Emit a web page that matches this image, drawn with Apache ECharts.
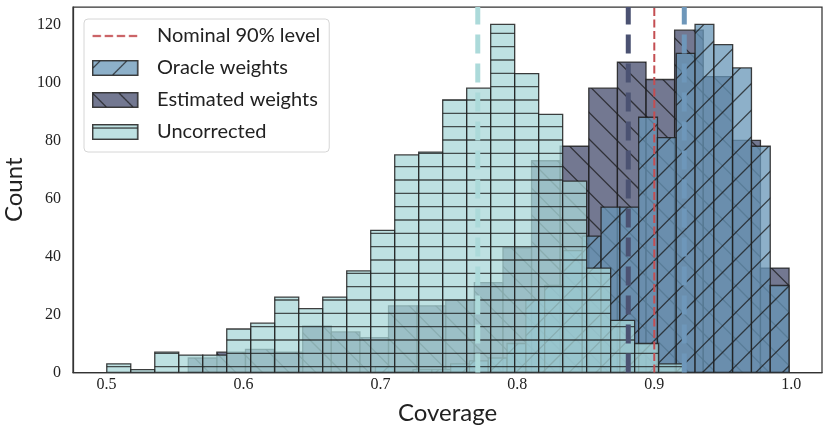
<!DOCTYPE html>
<html><head><meta charset="utf-8">
<script src="https://cdn.jsdelivr.net/npm/echarts@6/dist/echarts.min.js"></script>
<style>html,body{margin:0;padding:0;background:#fff}#chart{width:831px;height:436px}</style>
</head><body><div id="chart"></div>
<script>
// ---- data ----
const uncorrectedRange = [0.5002, 0.9207];
const uncorrectedCounts = [3, 1, 7, 6, 6, 15, 17, 26, 22, 26, 35, 49, 75, 76, 94, 98, 120, 103, 89, 66, 36, 18, 10, 3];
const estimatedRange = [0.5597, 0.9984];
const estimatedCounts = [5, 7, 8, 7, 16, 14, 12, 23, 23, 25, 31, 43, 73, 78, 98, 107, 101, 118, 102, 80, 36];
const oracleRange = [0.6964, 0.9984];
const oracleCounts = [2, 0, 1, 1, 3, 4, 5, 10, 25, 30, 42, 47, 57, 57, 88, 81, 110, 120, 113, 105, 78, 30];
const meanUncorrected = 0.7711;
const meanEstimated = 0.881;
const meanOracle = 0.9219;
const nominalLevel = 0.9;
const xTicks = [0.5, 0.6, 0.7, 0.8, 0.9, 1.0];
const yTicks = [0, 20, 40, 60, 80, 100, 120];
const legendNames = ['Nominal 90% level', 'Oracle weights', 'Estimated weights', 'Uncorrected'];

// ---- styles ----
const X_MIN = 0.47554, X_MAX = 1.02246, Y_MAX = 126;
const COL = {
  oracle: 'rgba(103,150,183,0.75)',
  est: 'rgba(68,75,108,0.75)',
  unc: 'rgba(168,215,216,0.75)',
  edge: 'rgba(30,30,30,0.85)',
  hatch: 'rgba(25,25,25,0.75)',
  red: '#c44e52'
};
const SP_H = 13.333, SP_D = 26.667;

function binsFrom(range, counts) {
  const w = (range[1] - range[0]) / counts.length;
  return counts.map((c, i) => [range[0] + i * w, range[0] + (i + 1) * w, c]);
}

function drawHatch(ctx, kind, w, h, phase) {
  ctx.beginPath();
  if (kind === 'h') {
    for (let y = phase - SP_H * 10; y < h + SP_H; y += SP_H) {
      if (y < -2) continue;
      ctx.moveTo(-2, y); ctx.lineTo(w + 2, y);
    }
  } else if (kind === 'ne') { // x + y = c
    for (let c = phase - SP_D * 20; c < w + h + SP_D; c += SP_D) {
      if (c < -SP_D) continue;
      ctx.moveTo(c + 5, -5); ctx.lineTo(c - h - 5, h + 5);
    }
  } else { // y - x = c
    for (let c = phase - SP_D * 20; c < h + SP_D; c += SP_D) {
      if (c < -w - SP_D) continue;
      ctx.moveTo(-5, c - 5); ctx.lineTo(w + 5, c + w + 5);
    }
  }
  ctx.stroke();
}

function makeTile(kind, phase) {
  const cv = document.createElement('canvas');
  cv.width = 80; cv.height = 80;
  const ctx = cv.getContext('2d');
  ctx.strokeStyle = COL.hatch; ctx.lineWidth = 1.3;
  drawHatch(ctx, kind, 80, 80, phase);
  return cv;
}
const patOracle = { image: makeTile('ne', 8.3), repeat: 'repeat' };
const patEst = { image: makeTile('nw', 3.3), repeat: 'repeat' };
const patUnc = { image: makeTile('h', 6.667), repeat: 'repeat' };

function makeIcon(kind, fill, phase) {
  const S = 3, W = 60, H = 16;
  const cv = document.createElement('canvas');
  cv.width = W * S; cv.height = H * S;
  const ctx = cv.getContext('2d');
  ctx.scale(S, S);
  if (kind === 'line') {
    ctx.strokeStyle = COL.red; ctx.lineWidth = 2;
    ctx.setLineDash([8.5, 3.6]);
    ctx.beginPath(); ctx.moveTo(0.5, H / 2); ctx.lineTo(46, H / 2); ctx.stroke();
  } else {
    ctx.save();
    ctx.beginPath(); ctx.rect(0.75, 0.75, 45, H - 1.5); ctx.clip();
    ctx.fillStyle = fill; ctx.fillRect(0, 0, 46, H);
    ctx.strokeStyle = COL.hatch; ctx.lineWidth = 1.25;
    drawHatch(ctx, kind, 46, H, phase);
    ctx.restore();
    ctx.strokeStyle = 'rgba(40,40,40,0.9)'; ctx.lineWidth = 1.5;
    ctx.strokeRect(0.75, 0.75, 45, H - 1.5);
  }
  return 'image://' + cv.toDataURL();
}
const icons = [
  makeIcon('line'),
  makeIcon('ne', COL.oracle, 9),
  makeIcon('nw', COL.est, 0.7),
  makeIcon('h', COL.unc, 4)
];

function histRender(fill, pattern) {
  return function (params, api) {
    const p0 = api.coord([api.value(0), api.value(2)]);
    const p1 = api.coord([api.value(1), 0]);
    const shape = { x: p0[0], y: p0[1], width: p1[0] - p0[0], height: p1[1] - p0[1] };
    return {
      type: 'group',
      children: [
        { type: 'rect', shape: shape, style: { fill: fill } },
        { type: 'rect', shape: shape, style: { fill: pattern } },
        { type: 'rect', shape: shape, style: { fill: 'none', stroke: COL.edge, lineWidth: 1.3 } }
      ]
    };
  };
}

function histSeries(name, data, fill, pattern) {
  return {
    type: 'custom', name: name, data: data,
    encode: { x: [0, 1], y: 2 },
    renderItem: histRender(fill, pattern),
    silent: true, animation: false, clip: true
  };
}

function vline(name, x, color, width, dash, z) {
  return {
    type: 'line', name: name, data: [[x, 0], [x, Y_MAX]],
    symbol: 'none', silent: true, animation: false, z: z,
    lineStyle: { color: color, width: width, type: dash }
  };
}

const chart = echarts.init(document.getElementById('chart'), null, { renderer: 'canvas' });
chart.setOption({
  animation: false,
  backgroundColor: '#ffffff',
  grid: {
    left: 73, right: 9, top: 7, bottom: 63.5, show: true,
    borderColor: '#333', borderWidth: 1.25, backgroundColor: 'transparent',
    containLabel: false, outerBoundsMode: 'none'
  },
  xAxis: {
    type: 'value', min: X_MIN, max: X_MAX,
    axisLine: { show: true, lineStyle: { color: '#333', width: 1.25 } },
    axisTick: { show: false }, splitLine: { show: false },
    axisLabel: { customValues: xTicks, formatter: v => v.toFixed(1), fontFamily: 'Liberation Serif', fontSize: 16, color: '#222', margin: 4 },
    name: 'Coverage', nameLocation: 'middle', nameGap: 29,
    nameTextStyle: { fontFamily: 'Lato', fontSize: 24, color: '#222' }
  },
  yAxis: {
    type: 'value', min: 0, max: Y_MAX,
    axisLine: { show: true, lineStyle: { color: '#333', width: 1.25 } },
    axisTick: { show: false }, splitLine: { show: false },
    axisLabel: { customValues: yTicks, fontFamily: 'Liberation Serif', fontSize: 16, color: '#222', margin: 12 },
    name: 'Count', nameLocation: 'middle', nameGap: 36, nameRotate: 90,
    nameTextStyle: { fontFamily: 'Lato', fontSize: 24, color: '#222' }
  },
  legend: {
    orient: 'vertical', left: 84, top: 19,
    data: legendNames.map((n, i) => ({ name: n, icon: icons[i] })),
    itemWidth: 60, itemHeight: 16, itemGap: 12,
    textStyle: { fontFamily: 'Lato', fontSize: 20, color: '#222' },
    padding: [7, 9, 10, 8],
    backgroundColor: 'rgba(255,255,255,0.8)', borderColor: '#d6d6d6', borderWidth: 1, borderRadius: 4,
    selectedMode: false
  },
  series: [
    histSeries('Estimated weights', binsFrom(estimatedRange, estimatedCounts), COL.est, patEst),
    histSeries('Oracle weights', binsFrom(oracleRange, oracleCounts), COL.oracle, patOracle),
    histSeries('Uncorrected', binsFrom(uncorrectedRange, uncorrectedCounts), COL.unc, patUnc),
    vline('Nominal 90% level', nominalLevel, COL.red, 2, [8, 3.5], 5),
    vline('Uncorrected mean', meanUncorrected, '#acdada', 5, [19, 10], 4),
    vline('Estimated mean', meanEstimated, '#4b5272', 5, [19, 10], 4),
    vline('Oracle mean', meanOracle, '#6e97ba', 5, [19, 10], 4)
  ]
});
</script>
</body></html>
